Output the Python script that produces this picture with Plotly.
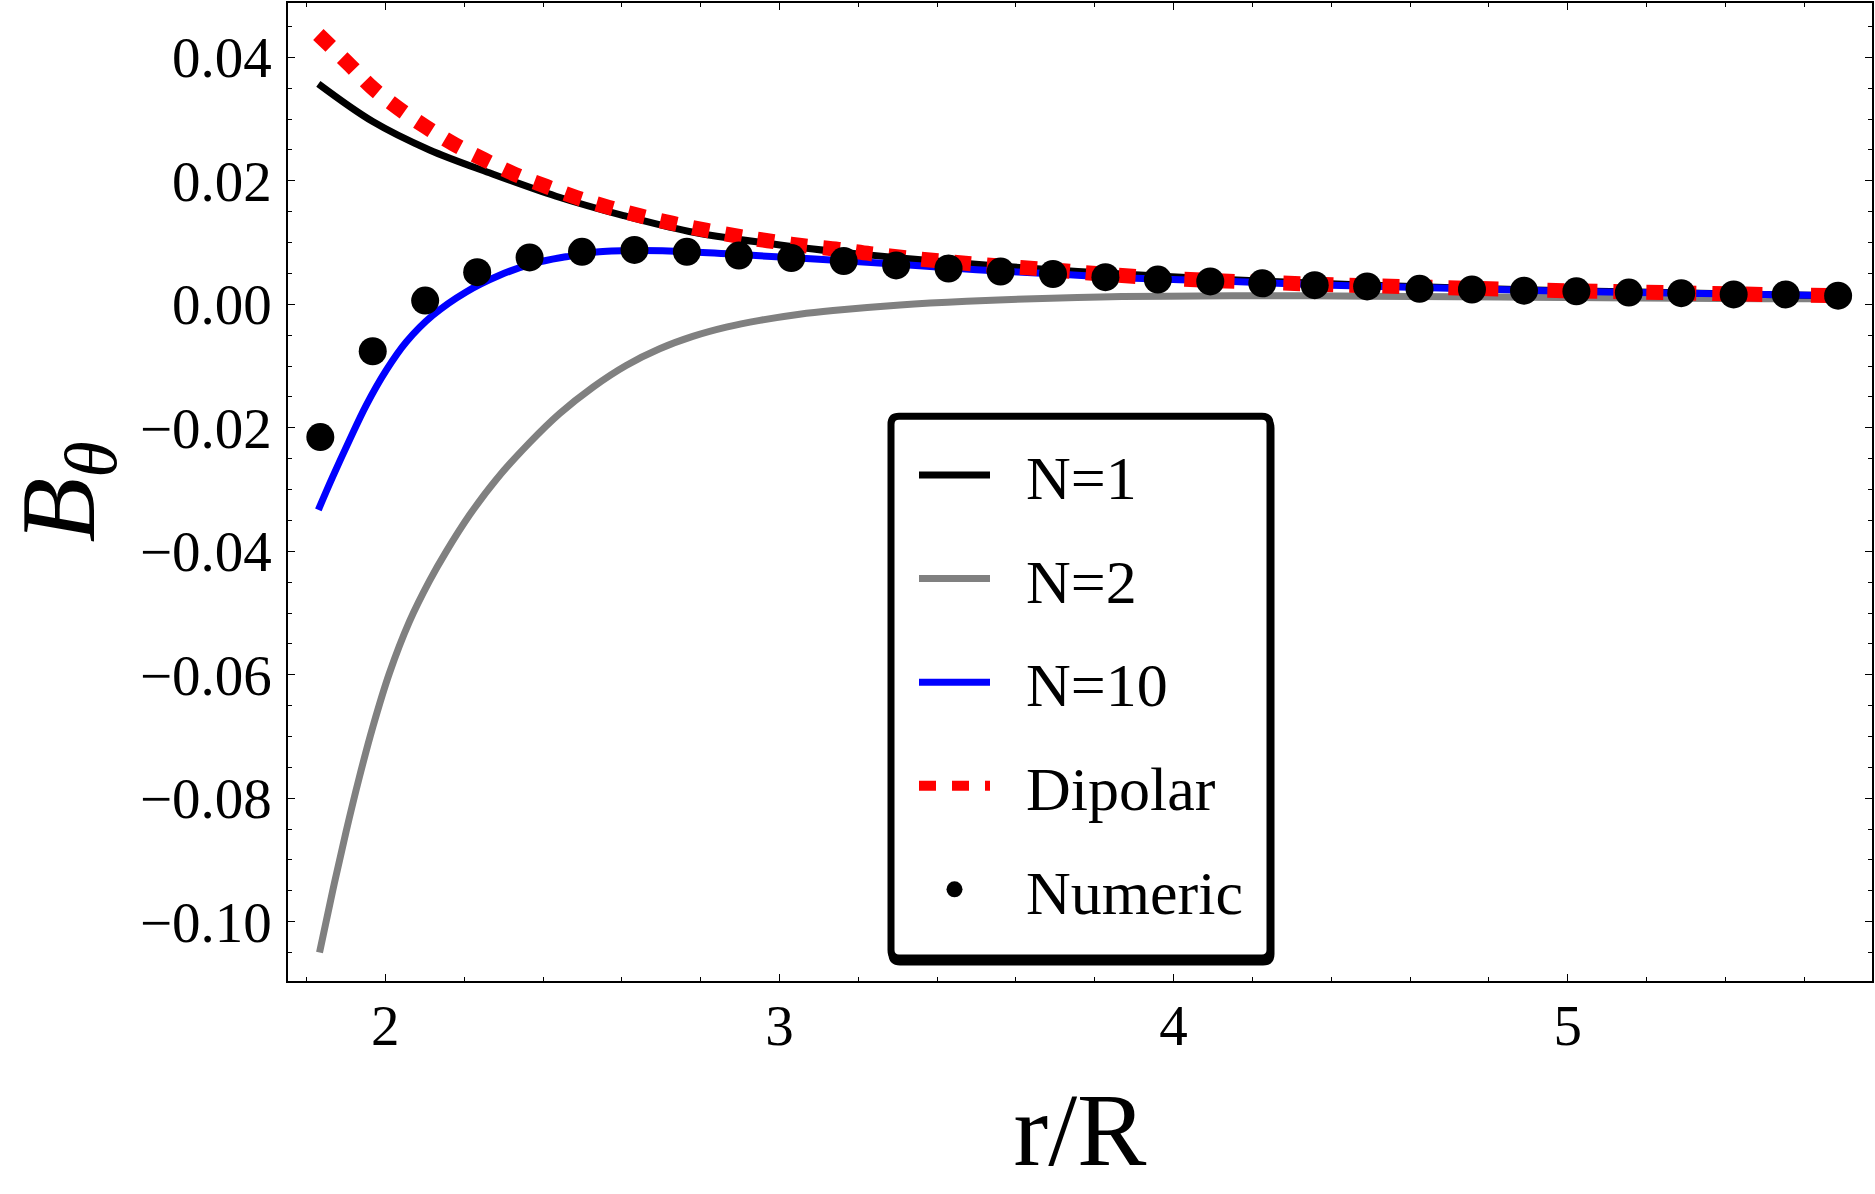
import plotly.graph_objects as go

# numeric solution (dots)
r_num = [1.835, 1.968, 2.101, 2.233, 2.366, 2.499, 2.632, 2.765, 2.897, 3.030,
         3.163, 3.296, 3.429, 3.561, 3.694, 3.827, 3.960, 4.093, 4.225, 4.358,
         4.491, 4.624, 4.757, 4.889, 5.022, 5.155, 5.288, 5.421, 5.553, 5.686]
b_num = [-0.0215, -0.0076, 0.0006, 0.0052, 0.0076, 0.0085, 0.0088, 0.0085, 0.0079, 0.0075,
         0.0070, 0.0063, 0.0058, 0.0053, 0.0049, 0.0044, 0.0040, 0.0037, 0.0034, 0.0031,
         0.0029, 0.0025, 0.0024, 0.0022, 0.0021, 0.0019, 0.0018, 0.0016, 0.0016, 0.0014]

# N=1
r_n1 = [1.83, 1.968, 2.112, 2.264, 2.433, 2.602, 2.771, 2.967, 3.136, 3.306, 3.475,
        3.645, 3.814, 3.983, 4.25, 4.5, 4.75, 5.0, 5.25, 5.5, 5.70]
b_n1 = [0.0357, 0.0296, 0.0250, 0.0213, 0.0175, 0.0144, 0.0118, 0.0099, 0.0086, 0.0075, 0.0066,
        0.0058, 0.0051, 0.0045, 0.0037, 0.0031, 0.0026, 0.0022, 0.0019, 0.0016, 0.0014]

# N=2
r_n2 = [1.833, 1.866, 1.900, 1.934, 1.968, 2.010, 2.061, 2.112, 2.154, 2.214, 2.281,
        2.366, 2.442, 2.527, 2.611, 2.696, 2.780, 2.865, 2.950, 3.051, 3.136, 3.306,
        3.475, 3.645, 3.814, 3.983, 4.25, 4.5, 5.0, 5.5, 5.70]
b_n2 = [-0.1050, -0.0951, -0.0855, -0.0766, -0.0685, -0.0598, -0.0514, -0.0448, -0.0401, -0.0341, -0.0284,
        -0.0224, -0.0177, -0.0134, -0.0099, -0.0072, -0.0052, -0.0037, -0.0026, -0.0016, -0.0010, -0.0001,
        0.0005, 0.0009, 0.0012, 0.0013, 0.0014, 0.0013, 0.0011, 0.0009, 0.0009]

# N=10
r_n10 = [1.830, 1.866, 1.909, 1.951, 2.002, 2.053, 2.120, 2.205, 2.290, 2.374, 2.459, 2.543,
         2.650, 2.771, 2.940, 3.10, 3.30, 3.50, 3.70, 3.90, 4.10, 4.40, 4.70, 5.00, 5.30, 5.70]
b_n10 = [-0.0333, -0.0280, -0.0220, -0.0164, -0.0107, -0.0061, -0.0018, 0.0020, 0.0047, 0.0066, 0.0077, 0.0085,
         0.0087, 0.0085, 0.0079, 0.0073, 0.0065, 0.0056, 0.0049, 0.0042, 0.0038, 0.0031, 0.0026, 0.0021, 0.0018, 0.0014]

# dipolar
r_dip = [1.83, 1.909, 1.968, 2.032, 2.103, 2.175, 2.251, 2.327, 2.408, 2.485, 2.567, 2.649,
         2.730, 2.813, 2.898, 2.97, 3.06, 3.15, 3.23, 3.33, 3.41, 3.50, 3.67, 3.84, 4.01,
         4.25, 4.5, 4.75, 5.0, 5.25, 5.5, 5.70]
b_dip = [0.0437, 0.0388, 0.0350, 0.0318, 0.0287, 0.0259, 0.0234, 0.0211, 0.0191, 0.0173, 0.0157, 0.0143,
         0.0131, 0.0120, 0.0110, 0.0103, 0.0095, 0.0089, 0.0082, 0.0075, 0.0070, 0.0065, 0.0057, 0.0048, 0.0041,
         0.0035, 0.0030, 0.0026, 0.0022, 0.0019, 0.0016, 0.0014]

FONT = "Liberation Serif"
W, H = 1875, 1194
ML, MR, MT, MB = 288, 3, 1, 213

fig = go.Figure()
line_shape = dict(shape="spline", smoothing=1.0)
fig.add_trace(go.Scatter(x=r_n2, y=b_n2, mode="lines", name="\u2002N=2", legendrank=2, legendgroup="b",
                         line=dict(color="#808080", width=7, **line_shape)))
fig.add_trace(go.Scatter(x=r_n1, y=b_n1, mode="lines", name="\u2002N=1", legendrank=1, legendgroup="a",
                         line=dict(color="black", width=7, **line_shape)))
fig.add_trace(go.Scatter(x=r_n10, y=b_n10, mode="lines", name="\u2002N=10", legendrank=3, legendgroup="c",
                         line=dict(color="#0000ff", width=7, **line_shape)))
fig.add_trace(go.Scatter(x=r_dip, y=b_dip, mode="lines", name="\u2002Dipolar", legendrank=4, legendgroup="d",
                         line=dict(color="#ff0000", width=15, dash="17px,16px", **line_shape)))
fig.add_trace(go.Scatter(x=r_num, y=b_num, mode="markers", name="\u2002Numeric", legendrank=5, legendgroup="e",
                         marker=dict(color="black", size=28)))

# legend frame (rounded box with a small drop shadow), in paper coords
pw, ph = W - ML - MR, H - MT - MB
def box_path(x0, y0, x1, y1, rad):
    X0, X1 = (x0 - ML) / pw, (x1 - ML) / pw
    Y0, Y1 = 1 - (y1 - MT) / ph, 1 - (y0 - MT) / ph
    rx, ry = rad / pw, rad / ph
    return (f"M{X0+rx},{Y0} L{X1-rx},{Y0} Q{X1},{Y0} {X1},{Y0+ry} L{X1},{Y1-ry} "
            f"Q{X1},{Y1} {X1-rx},{Y1} L{X0+rx},{Y1} Q{X0},{Y1} {X0},{Y1-ry} "
            f"L{X0},{Y0+ry} Q{X0},{Y0} {X0+rx},{Y0} Z")

fig.add_shape(type="path", path=box_path(892, 419, 1271, 962, 8), xref="paper", yref="paper",
              fillcolor="black", line=dict(color="black", width=7))
fig.add_shape(type="path", path=box_path(891, 415, 1270, 958, 8), xref="paper", yref="paper",
              fillcolor="white", line=dict(color="black", width=7))

axis_common = dict(
    showline=True, linecolor="black", linewidth=1.5, mirror="allticks",
    ticks="inside", ticklen=7, tickwidth=1.3, tickcolor="black",
    showgrid=False, zeroline=False,
    tickfont=dict(family=FONT, size=57, color="black"),
)

fig.update_xaxes(
    range=[1.753, 5.772], tick0=2, dtick=1,
    minor=dict(dtick=0.2, ticks="inside", ticklen=4, tickwidth=1.1, tickcolor="black"),
    ticklabelstandoff=-6,
    title=dict(text="r/R", font=dict(family=FONT, size=104, color="black"), standoff=36),
    **axis_common,
)
fig.update_yaxes(
    range=[-0.1096, 0.0488], tick0=0, dtick=0.02, tickformat=".2f",
    minor=dict(dtick=0.005, ticks="inside", ticklen=4, tickwidth=1.1, tickcolor="black"),
    ticklabelstandoff=3,
    title=dict(text="<i>B</i><sub><i>θ</i></sub>", font=dict(family=FONT, size=106, color="black"),
               standoff=20),
    **axis_common,
)

fig.update_layout(
    width=W, height=H,
    margin=dict(l=ML, r=MR, t=MT, b=MB),
    paper_bgcolor="white", plot_bgcolor="white",
    font=dict(family=FONT, color="black"),
    showlegend=True,
    legend=dict(
        x=(914 - ML) / pw, y=1 - (427 - MT) / ph, xanchor="left", yanchor="top",
        bgcolor="rgba(0,0,0,0)", borderwidth=0,
        font=dict(family=FONT, size=62, color="black"),
        traceorder="grouped", tracegroupgap=20, itemwidth=71,
    ),
)

# drop the page's default body margin so the figure sits at the window corner
fig.write_html("out.html", config={"displayModeBar": False},
               post_script="document.body.style.margin='0';")
